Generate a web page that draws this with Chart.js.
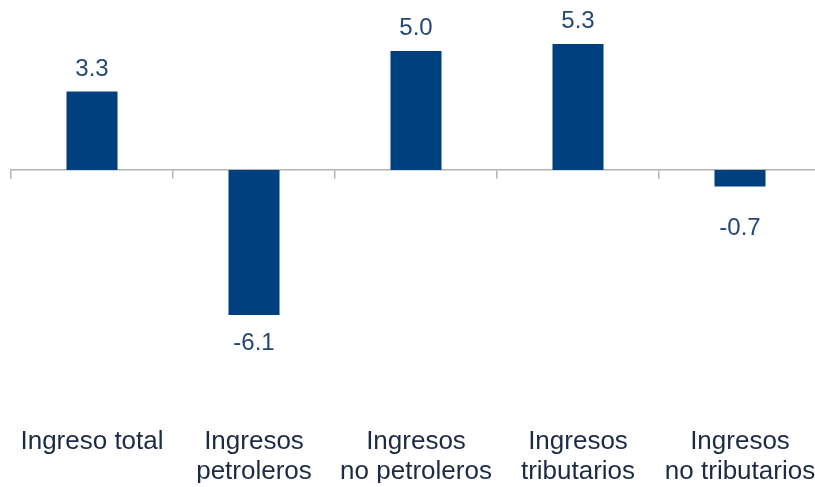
<!DOCTYPE html>
<html>
<head>
<meta charset="utf-8">
<script src="https://cdn.jsdelivr.net/npm/chart.js@4/dist/chart.umd.min.js"></script>
<style>
  html, body { margin: 0; padding: 0; background: #fff; overflow: hidden; }
  canvas { display: block; }
</style>
</head>
<body>
<canvas id="c" width="822" height="487" style="width:822px;height:487px"></canvas>
<script>
const categories = [
  "Ingreso total",
  ["Ingresos", "petroleros"],
  ["Ingresos", "no petroleros"],
  ["Ingresos", "tributarios"],
  ["Ingresos", "no tributarios"]
];
const values = [3.3, -6.1, 5.0, 5.3, -0.7];
const valueLabels = ["3.3", "-6.1", "5.0", "5.3", "-0.7"];

const barColor = "#00407F";
const labelColor = "#234876";
const catColor = "#1C2A45";
const axisColor = "#B4B4B4";

const dataLabelPlugin = {
  id: "dataLabels",
  afterDatasetsDraw(chart) {
    const ctx = chart.ctx;
    const meta = chart.getDatasetMeta(0);
    const zero = chart.scales.y.getPixelForValue(0);
    ctx.save();
    ctx.font = "24px 'Liberation Sans', Arial, sans-serif";
    ctx.fillStyle = labelColor;
    ctx.textAlign = "center";
    ctx.textBaseline = "alphabetic";
    meta.data.forEach((bar, i) => {
      const v = values[i];
      let y;
      if (v >= 0) {
        y = bar.y - 16;
      } else {
        const top = Math.max(bar.y + 18, zero + 48);
        y = top + 17;
      }
      ctx.fillText(valueLabels[i], bar.x, y);
    });
    ctx.restore();
  }
};

new Chart(document.getElementById("c"), {
  type: "bar",
  data: {
    labels: categories,
    datasets: [{
      data: values,
      backgroundColor: barColor,
      borderWidth: 0,
      categoryPercentage: 1.0,
      barPercentage: 0.315
    }]
  },
  options: {
    responsive: false,
    maintainAspectRatio: false,
    devicePixelRatio: 1,
    animation: false,
    layout: { padding: { left: 11, right: 1, top: 0, bottom: 4 } },
    plugins: { legend: { display: false }, tooltip: { enabled: false } },
    scales: {
      x: {
        type: "category",
        position: "bottom",
        offset: true,
        grid: { display: false, drawTicks: false },
        border: { display: false },
        afterFit(scale) { scale.height -= 7; },
        ticks: {
          maxRotation: 0, minRotation: 0, autoSkip: false,
          padding: 4,
          color: catColor,
          font: { family: "'Liberation Sans', Arial, sans-serif", size: 26, lineHeight: 1.12 }
        }
      },
      x2: {
        type: "category",
        labels: categories,
        position: { y: 0 },
        offset: true,
        grid: { display: true, offset: true, drawOnChartArea: false, drawTicks: true, tickLength: 8, color: axisColor, lineWidth: 1.5 },
        border: { display: true, color: axisColor, width: 1.5 },
        ticks: { display: false }
      },
      y: {
        display: false,
        min: -10.68,
        max: 7.15
      }
    }
  },
  plugins: [dataLabelPlugin]
});
</script>
</body>
</html>
